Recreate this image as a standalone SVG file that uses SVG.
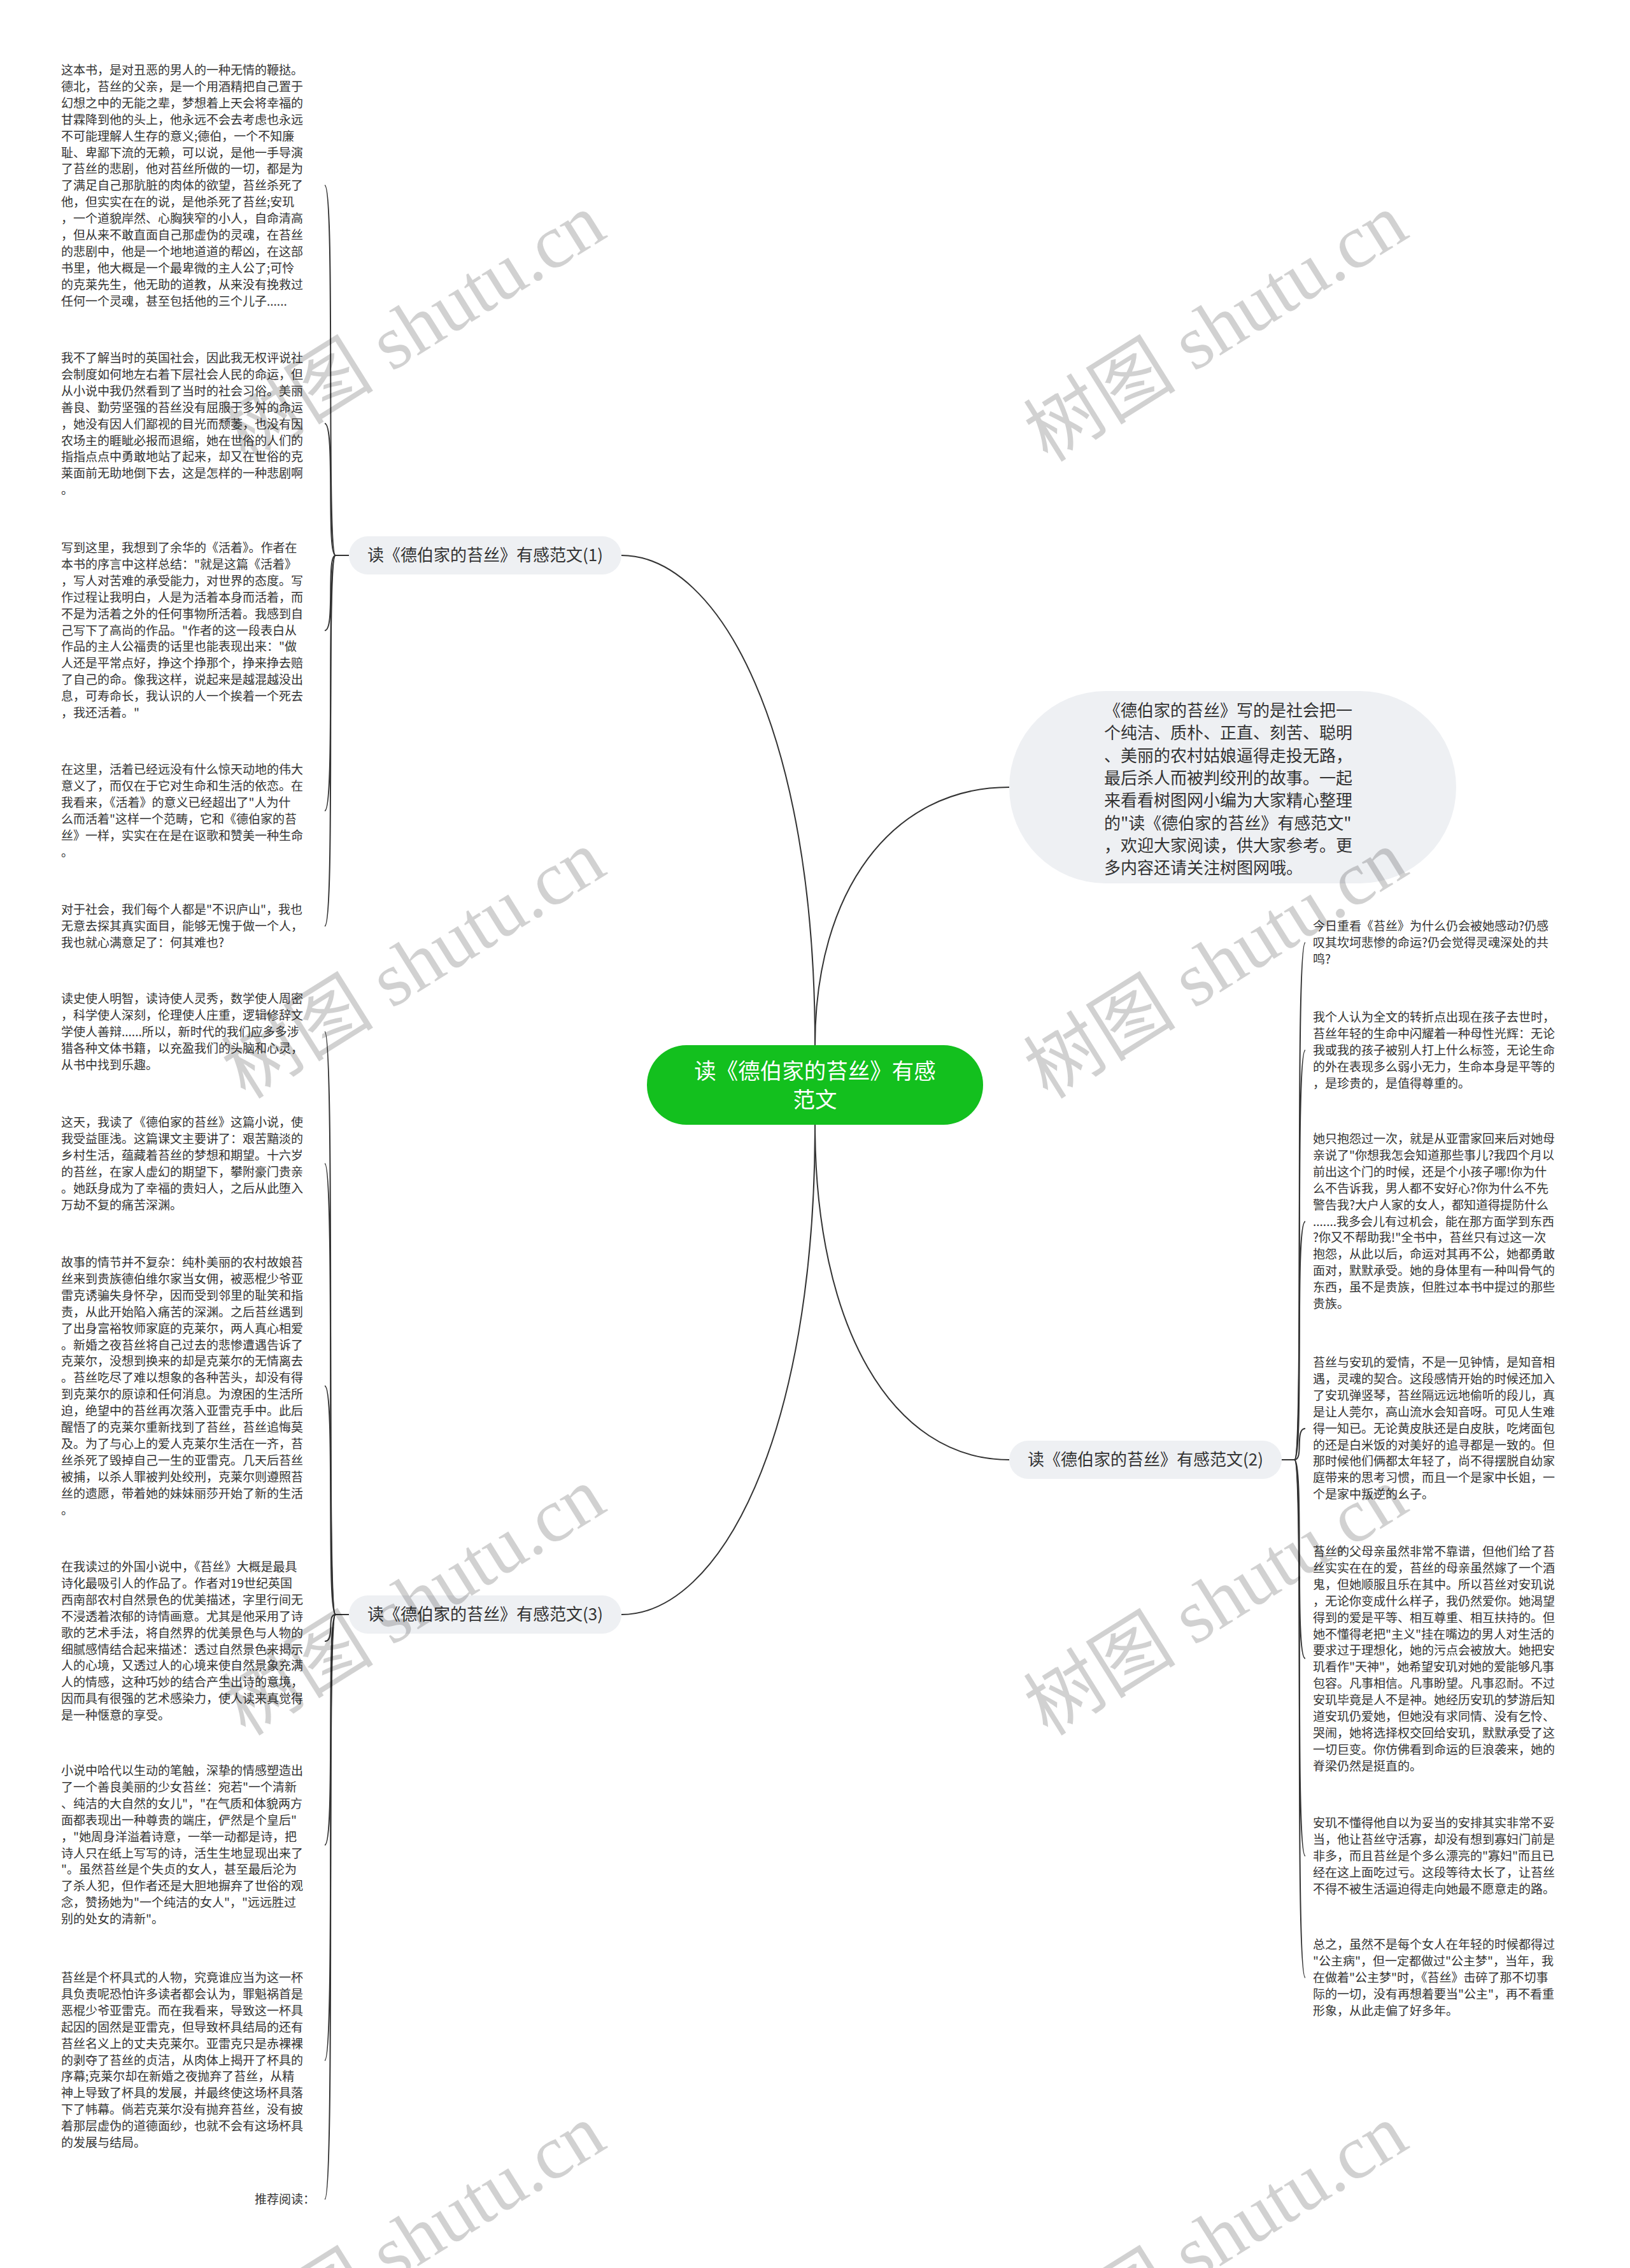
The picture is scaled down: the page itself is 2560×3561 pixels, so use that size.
<svg xmlns="http://www.w3.org/2000/svg" width="2560" height="3561" viewBox="0 0 2560 3561">
<style>
.t{font-family:"Noto Sans CJK SC","Noto Sans",sans-serif;font-size:19px;fill:#333}
.bt{font-family:"Noto Sans CJK SC","Noto Sans",sans-serif;font-size:26px;fill:#333}
.ct{font-family:"Noto Sans CJK SC","Noto Sans",sans-serif;font-size:34.5px;fill:#fff}
.nb{fill:#eef0f3}
.ln{fill:none;stroke:#333;stroke-width:2}
.wm{font-family:"Liberation Serif","Noto Sans CJK SC",serif;font-size:120px;fill:#000;fill-opacity:0.18}
</style>
<rect width="2560" height="3561" fill="#fff"/>
<g id="connectors">
<path class="ln" d="M976,872 C1130,872 1280,1150 1280,1641"/>
<path class="ln" d="M1280,1641 C1280,1400 1400,1236 1585,1236"/>
<path class="ln" d="M1280,1766 C1280,2082 1400,2292 1585,2292"/>
<path class="ln" d="M1280,1766 C1280,2257 1130,2535 976,2535"/>
<path class="ln" d="M527,872 L548,872"/>
<path class="ln" d="M527,872 C512,872 527,291 510,291"/>
<path class="ln" d="M527,872 C512,872 527,665 510,665"/>
<path class="ln" d="M527,872 C512,872 527,990 510,990"/>
<path class="ln" d="M527,872 C512,872 527,1273 510,1273"/>
<path class="ln" d="M527,872 C512,872 527,1454 510,1454"/>
<path class="ln" d="M527,2535 L548,2535"/>
<path class="ln" d="M527,2535 C512,2535 527,1620 510,1620"/>
<path class="ln" d="M527,2535 C512,2535 527,1827 510,1827"/>
<path class="ln" d="M527,2535 C512,2535 527,2176 510,2176"/>
<path class="ln" d="M527,2535 C512,2535 527,2577 510,2577"/>
<path class="ln" d="M527,2535 C512,2535 527,2897 510,2897"/>
<path class="ln" d="M527,2535 C512,2535 527,3235 510,3235"/>
<path class="ln" d="M527,2535 C512,2535 527,3453 510,3453"/>
<path class="ln" d="M2013,2292 L2033,2292"/>
<path class="ln" d="M2033,2292 C2048,2292 2033,1480 2050,1480"/>
<path class="ln" d="M2033,2292 C2048,2292 2033,1649 2050,1649"/>
<path class="ln" d="M2033,2292 C2048,2292 2033,1918 2050,1918"/>
<path class="ln" d="M2033,2292 C2048,2292 2033,2243 2050,2243"/>
<path class="ln" d="M2033,2292 C2048,2292 2033,2604 2050,2604"/>
<path class="ln" d="M2033,2292 C2048,2292 2033,2914 2050,2914"/>
<path class="ln" d="M2033,2292 C2048,2292 2033,3105 2050,3105"/>
</g>
<g id="center">
<rect x="1016" y="1641" width="528" height="125" rx="62" fill="#13c01e"/>
<text class="ct" x="1280" y="1694" text-anchor="middle">读《德伯家的苔丝》有感</text>
<text class="ct" x="1280" y="1739" text-anchor="middle">范文</text>
</g>
<g id="intro">
<rect x="1585" y="1085" width="702" height="302" rx="151" class="nb"/>
<text class="bt" x="1734" y="1125">
<tspan x="1734" dy="0">《德伯家的苔丝》写的是社会把一</tspan>
<tspan x="1734" dy="35.3">个纯洁、质朴、正直、刻苦、聪明</tspan>
<tspan x="1734" dy="35.3">、美丽的农村姑娘逼得走投无路，</tspan>
<tspan x="1734" dy="35.3">最后杀人而被判绞刑的故事。一起</tspan>
<tspan x="1734" dy="35.3">来看看树图网小编为大家精心整理</tspan>
<tspan x="1734" dy="35.3">的"读《德伯家的苔丝》有感范文"</tspan>
<tspan x="1734" dy="35.3">，欢迎大家阅读，供大家参考。更</tspan>
<tspan x="1734" dy="35.3">多内容还请关注树图网哦。</tspan>
</text>
</g>
<g id="branch1">
<rect x="548" y="842" width="428" height="60" rx="30" class="nb"/>
<text class="bt" x="762" y="881" text-anchor="middle">读《德伯家的苔丝》有感范文(1)</text>
</g>
<g id="branch2">
<rect x="1585" y="2262" width="428" height="60" rx="30" class="nb"/>
<text class="bt" x="1799" y="2301" text-anchor="middle">读《德伯家的苔丝》有感范文(2)</text>
</g>
<g id="branch3">
<rect x="548" y="2505" width="428" height="60" rx="30" class="nb"/>
<text class="bt" x="762" y="2544" text-anchor="middle">读《德伯家的苔丝》有感范文(3)</text>
</g>
<g id="b1-1">
<text class="t" x="96" y="117">
<tspan x="96" dy="0">这本书，是对丑恶的男人的一种无情的鞭挞。</tspan>
<tspan x="96" dy="25.9">德北，苔丝的父亲，是一个用酒精把自己置于</tspan>
<tspan x="96" dy="25.9">幻想之中的无能之辈，梦想着上天会将幸福的</tspan>
<tspan x="96" dy="25.9">甘霖降到他的头上，他永远不会去考虑也永远</tspan>
<tspan x="96" dy="25.9">不可能理解人生存的意义;德伯，一个不知廉</tspan>
<tspan x="96" dy="25.9">耻、卑鄙下流的无赖，可以说，是他一手导演</tspan>
<tspan x="96" dy="25.9">了苔丝的悲剧，他对苔丝所做的一切，都是为</tspan>
<tspan x="96" dy="25.9">了满足自己那肮脏的肉体的欲望，苔丝杀死了</tspan>
<tspan x="96" dy="25.9">他，但实实在在的说，是他杀死了苔丝;安玑</tspan>
<tspan x="96" dy="25.9">，一个道貌岸然、心胸狭窄的小人，自命清高</tspan>
<tspan x="96" dy="25.9">，但从来不敢直面自己那虚伪的灵魂，在苔丝</tspan>
<tspan x="96" dy="25.9">的悲剧中，他是一个地地道道的帮凶，在这部</tspan>
<tspan x="96" dy="25.9">书里，他大概是一个最卑微的主人公了;可怜</tspan>
<tspan x="96" dy="25.9">的克莱先生，他无助的道教，从来没有挽救过</tspan>
<tspan x="96" dy="25.9">任何一个灵魂，甚至包括他的三个儿子......</tspan>
</text>
</g>
<g id="b1-2">
<text class="t" x="96" y="569">
<tspan x="96" dy="0">我不了解当时的英国社会，因此我无权评说社</tspan>
<tspan x="96" dy="25.9">会制度如何地左右着下层社会人民的命运，但</tspan>
<tspan x="96" dy="25.9">从小说中我仍然看到了当时的社会习俗。美丽</tspan>
<tspan x="96" dy="25.9">善良、勤劳坚强的苔丝没有屈服于多舛的命运</tspan>
<tspan x="96" dy="25.9">，她没有因人们鄙视的目光而颓萎，也没有因</tspan>
<tspan x="96" dy="25.9">农场主的睚眦必报而退缩，她在世俗的人们的</tspan>
<tspan x="96" dy="25.9">指指点点中勇敢地站了起来，却又在世俗的克</tspan>
<tspan x="96" dy="25.9">莱面前无助地倒下去，这是怎样的一种悲剧啊</tspan>
<tspan x="96" dy="25.9">。</tspan>
</text>
</g>
<g id="b1-3">
<text class="t" x="96" y="867">
<tspan x="96" dy="0">写到这里，我想到了余华的《活着》。作者在</tspan>
<tspan x="96" dy="25.9">本书的序言中这样总结："就是这篇《活着》</tspan>
<tspan x="96" dy="25.9">，写人对苦难的承受能力，对世界的态度。写</tspan>
<tspan x="96" dy="25.9">作过程让我明白，人是为活着本身而活着，而</tspan>
<tspan x="96" dy="25.9">不是为活着之外的任何事物所活着。我感到自</tspan>
<tspan x="96" dy="25.9">己写下了高尚的作品。"作者的这一段表白从</tspan>
<tspan x="96" dy="25.9">作品的主人公福贵的话里也能表现出来："做</tspan>
<tspan x="96" dy="25.9">人还是平常点好，挣这个挣那个，挣来挣去赔</tspan>
<tspan x="96" dy="25.9">了自己的命。像我这样，说起来是越混越没出</tspan>
<tspan x="96" dy="25.9">息，可寿命长，我认识的人一个挨着一个死去</tspan>
<tspan x="96" dy="25.9">，我还活着。"</tspan>
</text>
</g>
<g id="b1-4">
<text class="t" x="96" y="1215">
<tspan x="96" dy="0">在这里，活着已经远没有什么惊天动地的伟大</tspan>
<tspan x="96" dy="25.9">意义了，而仅在于它对生命和生活的依恋。在</tspan>
<tspan x="96" dy="25.9">我看来，《活着》的意义已经超出了"人为什</tspan>
<tspan x="96" dy="25.9">么而活着"这样一个范畴，它和《德伯家的苔</tspan>
<tspan x="96" dy="25.9">丝》一样，实实在在是在讴歌和赞美一种生命</tspan>
<tspan x="96" dy="25.9">。</tspan>
</text>
</g>
<g id="b1-5">
<text class="t" x="96" y="1435">
<tspan x="96" dy="0">对于社会，我们每个人都是"不识庐山"，我也</tspan>
<tspan x="96" dy="25.9">无意去探其真实面目，能够无愧于做一个人，</tspan>
<tspan x="96" dy="25.9">我也就心满意足了：何其难也?</tspan>
</text>
</g>
<g id="b3-1">
<text class="t" x="96" y="1575">
<tspan x="96" dy="0">读史使人明智，读诗使人灵秀，数学使人周密</tspan>
<tspan x="96" dy="25.9">，科学使人深刻，伦理使人庄重，逻辑修辞文</tspan>
<tspan x="96" dy="25.9">学使人善辩......所以，新时代的我们应多多涉</tspan>
<tspan x="96" dy="25.9">猎各种文体书籍，以充盈我们的头脑和心灵，</tspan>
<tspan x="96" dy="25.9">从书中找到乐趣。</tspan>
</text>
</g>
<g id="b3-2">
<text class="t" x="96" y="1769">
<tspan x="96" dy="0">这天，我读了《德伯家的苔丝》这篇小说，使</tspan>
<tspan x="96" dy="25.9">我受益匪浅。这篇课文主要讲了：艰苦黯淡的</tspan>
<tspan x="96" dy="25.9">乡村生活，蕴藏着苔丝的梦想和期望。十六岁</tspan>
<tspan x="96" dy="25.9">的苔丝，在家人虚幻的期望下，攀附豪门贵亲</tspan>
<tspan x="96" dy="25.9">。她跃身成为了幸福的贵妇人，之后从此堕入</tspan>
<tspan x="96" dy="25.9">万劫不复的痛苦深渊。</tspan>
</text>
</g>
<g id="b3-3">
<text class="t" x="96" y="1989">
<tspan x="96" dy="0">故事的情节并不复杂：纯朴美丽的农村故娘苔</tspan>
<tspan x="96" dy="25.9">丝来到贵族德伯维尔家当女佣，被恶棍少爷亚</tspan>
<tspan x="96" dy="25.9">雷克诱骗失身怀孕，因而受到邻里的耻笑和指</tspan>
<tspan x="96" dy="25.9">责，从此开始陷入痛苦的深渊。之后苔丝遇到</tspan>
<tspan x="96" dy="25.9">了出身富裕牧师家庭的克莱尔，两人真心相爱</tspan>
<tspan x="96" dy="25.9">。新婚之夜苔丝将自己过去的悲惨遭遇告诉了</tspan>
<tspan x="96" dy="25.9">克莱尔，没想到换来的却是克莱尔的无情离去</tspan>
<tspan x="96" dy="25.9">。苔丝吃尽了难以想象的各种苦头，却没有得</tspan>
<tspan x="96" dy="25.9">到克莱尔的原谅和任何消息。为潦困的生活所</tspan>
<tspan x="96" dy="25.9">迫，绝望中的苔丝再次落入亚雷克手中。此后</tspan>
<tspan x="96" dy="25.9">醒悟了的克莱尔重新找到了苔丝，苔丝追悔莫</tspan>
<tspan x="96" dy="25.9">及。为了与心上的爱人克莱尔生活在一齐，苔</tspan>
<tspan x="96" dy="25.9">丝杀死了毁掉自己一生的亚雷克。几天后苔丝</tspan>
<tspan x="96" dy="25.9">被捕，以杀人罪被判处绞刑，克莱尔则遵照苔</tspan>
<tspan x="96" dy="25.9">丝的遗愿，带着她的妹妹丽莎开始了新的生活</tspan>
<tspan x="96" dy="25.9">。</tspan>
</text>
</g>
<g id="b3-4">
<text class="t" x="96" y="2467">
<tspan x="96" dy="0">在我读过的外国小说中，《苔丝》大概是最具</tspan>
<tspan x="96" dy="25.9">诗化最吸引人的作品了。作者对19世纪英国</tspan>
<tspan x="96" dy="25.9">西南部农村自然景色的优美描述，字里行间无</tspan>
<tspan x="96" dy="25.9">不浸透着浓郁的诗情画意。尤其是他采用了诗</tspan>
<tspan x="96" dy="25.9">歌的艺术手法，将自然界的优美景色与人物的</tspan>
<tspan x="96" dy="25.9">细腻感情结合起来描述：透过自然景色来揭示</tspan>
<tspan x="96" dy="25.9">人的心境，又透过人的心境来使自然景象充满</tspan>
<tspan x="96" dy="25.9">人的情感，这种巧妙的结合产生出诗的意境，</tspan>
<tspan x="96" dy="25.9">因而具有很强的艺术感染力，使人读来真觉得</tspan>
<tspan x="96" dy="25.9">是一种惬意的享受。</tspan>
</text>
</g>
<g id="b3-5">
<text class="t" x="96" y="2787">
<tspan x="96" dy="0">小说中哈代以生动的笔触，深挚的情感塑造出</tspan>
<tspan x="96" dy="25.9">了一个善良美丽的少女苔丝：宛若"一个清新</tspan>
<tspan x="96" dy="25.9">、纯洁的大自然的女儿"，"在气质和体貌两方</tspan>
<tspan x="96" dy="25.9">面都表现出一种尊贵的端庄，俨然是个皇后"</tspan>
<tspan x="96" dy="25.9">，"她周身洋溢着诗意，一举一动都是诗，把</tspan>
<tspan x="96" dy="25.9">诗人只在纸上写写的诗，活生生地显现出来了</tspan>
<tspan x="96" dy="25.9">"。虽然苔丝是个失贞的女人，甚至最后沦为</tspan>
<tspan x="96" dy="25.9">了杀人犯，但作者还是大胆地摒弃了世俗的观</tspan>
<tspan x="96" dy="25.9">念，赞扬她为"一个纯洁的女人"，"远远胜过</tspan>
<tspan x="96" dy="25.9">别的处女的清新"。</tspan>
</text>
</g>
<g id="b3-6">
<text class="t" x="96" y="3112">
<tspan x="96" dy="0">苔丝是个杯具式的人物，究竟谁应当为这一杯</tspan>
<tspan x="96" dy="25.9">具负责呢恐怕许多读者都会认为，罪魁祸首是</tspan>
<tspan x="96" dy="25.9">恶棍少爷亚雷克。而在我看来，导致这一杯具</tspan>
<tspan x="96" dy="25.9">起因的固然是亚雷克，但导致杯具结局的还有</tspan>
<tspan x="96" dy="25.9">苔丝名义上的丈夫克莱尔。亚雷克只是赤裸裸</tspan>
<tspan x="96" dy="25.9">的剥夺了苔丝的贞洁，从肉体上揭开了杯具的</tspan>
<tspan x="96" dy="25.9">序幕;克莱尔却在新婚之夜抛弃了苔丝，从精</tspan>
<tspan x="96" dy="25.9">神上导致了杯具的发展，并最终使这场杯具落</tspan>
<tspan x="96" dy="25.9">下了帏幕。倘若克莱尔没有抛弃苔丝，没有披</tspan>
<tspan x="96" dy="25.9">着那层虚伪的道德面纱，也就不会有这场杯具</tspan>
<tspan x="96" dy="25.9">的发展与结局。</tspan>
</text>
</g>
<g id="b3-7">
<text class="t" x="400" y="3460">推荐阅读：</text>
</g>
<g id="b2-1">
<text class="t" x="2062" y="1461">
<tspan x="2062" dy="0">今日重看《苔丝》为什么仍会被她感动?仍感</tspan>
<tspan x="2062" dy="25.9">叹其坎坷悲惨的命运?仍会觉得灵魂深处的共</tspan>
<tspan x="2062" dy="25.9">鸣?</tspan>
</text>
</g>
<g id="b2-2">
<text class="t" x="2062" y="1604">
<tspan x="2062" dy="0">我个人认为全文的转折点出现在孩子去世时，</tspan>
<tspan x="2062" dy="25.9">苔丝年轻的生命中闪耀着一种母性光辉：无论</tspan>
<tspan x="2062" dy="25.9">我或我的孩子被别人打上什么标签，无论生命</tspan>
<tspan x="2062" dy="25.9">的外在表现多么弱小无力，生命本身是平等的</tspan>
<tspan x="2062" dy="25.9">，是珍贵的，是值得尊重的。</tspan>
</text>
</g>
<g id="b2-3">
<text class="t" x="2062" y="1795">
<tspan x="2062" dy="0">她只抱怨过一次，就是从亚雷家回来后对她母</tspan>
<tspan x="2062" dy="25.9">亲说了"你想我怎会知道那些事儿?我四个月以</tspan>
<tspan x="2062" dy="25.9">前出这个门的时候，还是个小孩子哪!你为什</tspan>
<tspan x="2062" dy="25.9">么不告诉我，男人都不安好心?你为什么不先</tspan>
<tspan x="2062" dy="25.9">警告我?大户人家的女人，都知道得提防什么</tspan>
<tspan x="2062" dy="25.9">.......我多会儿有过机会，能在那方面学到东西</tspan>
<tspan x="2062" dy="25.9">?你又不帮助我!"全书中，苔丝只有过这一次</tspan>
<tspan x="2062" dy="25.9">抱怨，从此以后，命运对其再不公，她都勇敢</tspan>
<tspan x="2062" dy="25.9">面对，默默承受。她的身体里有一种叫骨气的</tspan>
<tspan x="2062" dy="25.9">东西，虽不是贵族，但胜过本书中提过的那些</tspan>
<tspan x="2062" dy="25.9">贵族。</tspan>
</text>
</g>
<g id="b2-4">
<text class="t" x="2062" y="2146">
<tspan x="2062" dy="0">苔丝与安玑的爱情，不是一见钟情，是知音相</tspan>
<tspan x="2062" dy="25.9">遇，灵魂的契合。这段感情开始的时候还加入</tspan>
<tspan x="2062" dy="25.9">了安玑弹竖琴，苔丝隔远远地偷听的段儿，真</tspan>
<tspan x="2062" dy="25.9">是让人莞尔，高山流水会知音呀。可见人生难</tspan>
<tspan x="2062" dy="25.9">得一知已。无论黄皮肤还是白皮肤，吃烤面包</tspan>
<tspan x="2062" dy="25.9">的还是白米饭的对美好的追寻都是一致的。但</tspan>
<tspan x="2062" dy="25.9">那时候他们俩都太年轻了，尚不得摆脱自幼家</tspan>
<tspan x="2062" dy="25.9">庭带来的思考习惯，而且一个是家中长姐，一</tspan>
<tspan x="2062" dy="25.9">个是家中叛逆的幺子。</tspan>
</text>
</g>
<g id="b2-5">
<text class="t" x="2062" y="2443">
<tspan x="2062" dy="0">苔丝的父母亲虽然非常不靠谱，但他们给了苔</tspan>
<tspan x="2062" dy="25.9">丝实实在在的爱，苔丝的母亲虽然嫁了一个酒</tspan>
<tspan x="2062" dy="25.9">鬼，但她顺服且乐在其中。所以苔丝对安玑说</tspan>
<tspan x="2062" dy="25.9">，无论你变成什么样子，我仍然爱你。她渴望</tspan>
<tspan x="2062" dy="25.9">得到的爱是平等、相互尊重、相互扶持的。但</tspan>
<tspan x="2062" dy="25.9">她不懂得老把"主义"挂在嘴边的男人对生活的</tspan>
<tspan x="2062" dy="25.9">要求过于理想化，她的污点会被放大。她把安</tspan>
<tspan x="2062" dy="25.9">玑看作"天神"，她希望安玑对她的爱能够凡事</tspan>
<tspan x="2062" dy="25.9">包容。凡事相信。凡事盼望。凡事忍耐。不过</tspan>
<tspan x="2062" dy="25.9">安玑毕竟是人不是神。她经历安玑的梦游后知</tspan>
<tspan x="2062" dy="25.9">道安玑仍爱她，但她没有求同情、没有乞怜、</tspan>
<tspan x="2062" dy="25.9">哭闹，她将选择权交回给安玑，默默承受了这</tspan>
<tspan x="2062" dy="25.9">一切巨变。你仿佛看到命运的巨浪袭来，她的</tspan>
<tspan x="2062" dy="25.9">脊梁仍然是挺直的。</tspan>
</text>
</g>
<g id="b2-6">
<text class="t" x="2062" y="2869">
<tspan x="2062" dy="0">安玑不懂得他自以为妥当的安排其实非常不妥</tspan>
<tspan x="2062" dy="25.9">当，他让苔丝守活寡，却没有想到寡妇门前是</tspan>
<tspan x="2062" dy="25.9">非多，而且苔丝是个多么漂亮的"寡妇"而且已</tspan>
<tspan x="2062" dy="25.9">经在这上面吃过亏。这段等待太长了，让苔丝</tspan>
<tspan x="2062" dy="25.9">不得不被生活逼迫得走向她最不愿意走的路。</tspan>
</text>
</g>
<g id="b2-7">
<text class="t" x="2062" y="3060">
<tspan x="2062" dy="0">总之，虽然不是每个女人在年轻的时候都得过</tspan>
<tspan x="2062" dy="25.9">"公主病"，但一定都做过"公主梦"，当年，我</tspan>
<tspan x="2062" dy="25.9">在做着"公主梦"时，《苔丝》击碎了那不切事</tspan>
<tspan x="2062" dy="25.9">际的一切，没有再想着要当"公主"，再不看重</tspan>
<tspan x="2062" dy="25.9">形象，从此走偏了好多年。</tspan>
</text>
</g>
<g id="watermarks">
<text class="wm" transform="translate(650,515) rotate(-32)" x="0" y="40" text-anchor="middle">树图 shutu.cn</text>
<text class="wm" transform="translate(1910,515) rotate(-32)" x="0" y="40" text-anchor="middle">树图 shutu.cn</text>
<text class="wm" transform="translate(650,1515) rotate(-32)" x="0" y="40" text-anchor="middle">树图 shutu.cn</text>
<text class="wm" transform="translate(1910,1515) rotate(-32)" x="0" y="40" text-anchor="middle">树图 shutu.cn</text>
<text class="wm" transform="translate(650,2515) rotate(-32)" x="0" y="40" text-anchor="middle">树图 shutu.cn</text>
<text class="wm" transform="translate(1910,2515) rotate(-32)" x="0" y="40" text-anchor="middle">树图 shutu.cn</text>
<text class="wm" transform="translate(650,3515) rotate(-32)" x="0" y="40" text-anchor="middle">树图 shutu.cn</text>
<text class="wm" transform="translate(1910,3515) rotate(-32)" x="0" y="40" text-anchor="middle">树图 shutu.cn</text>
</g>
</svg>
